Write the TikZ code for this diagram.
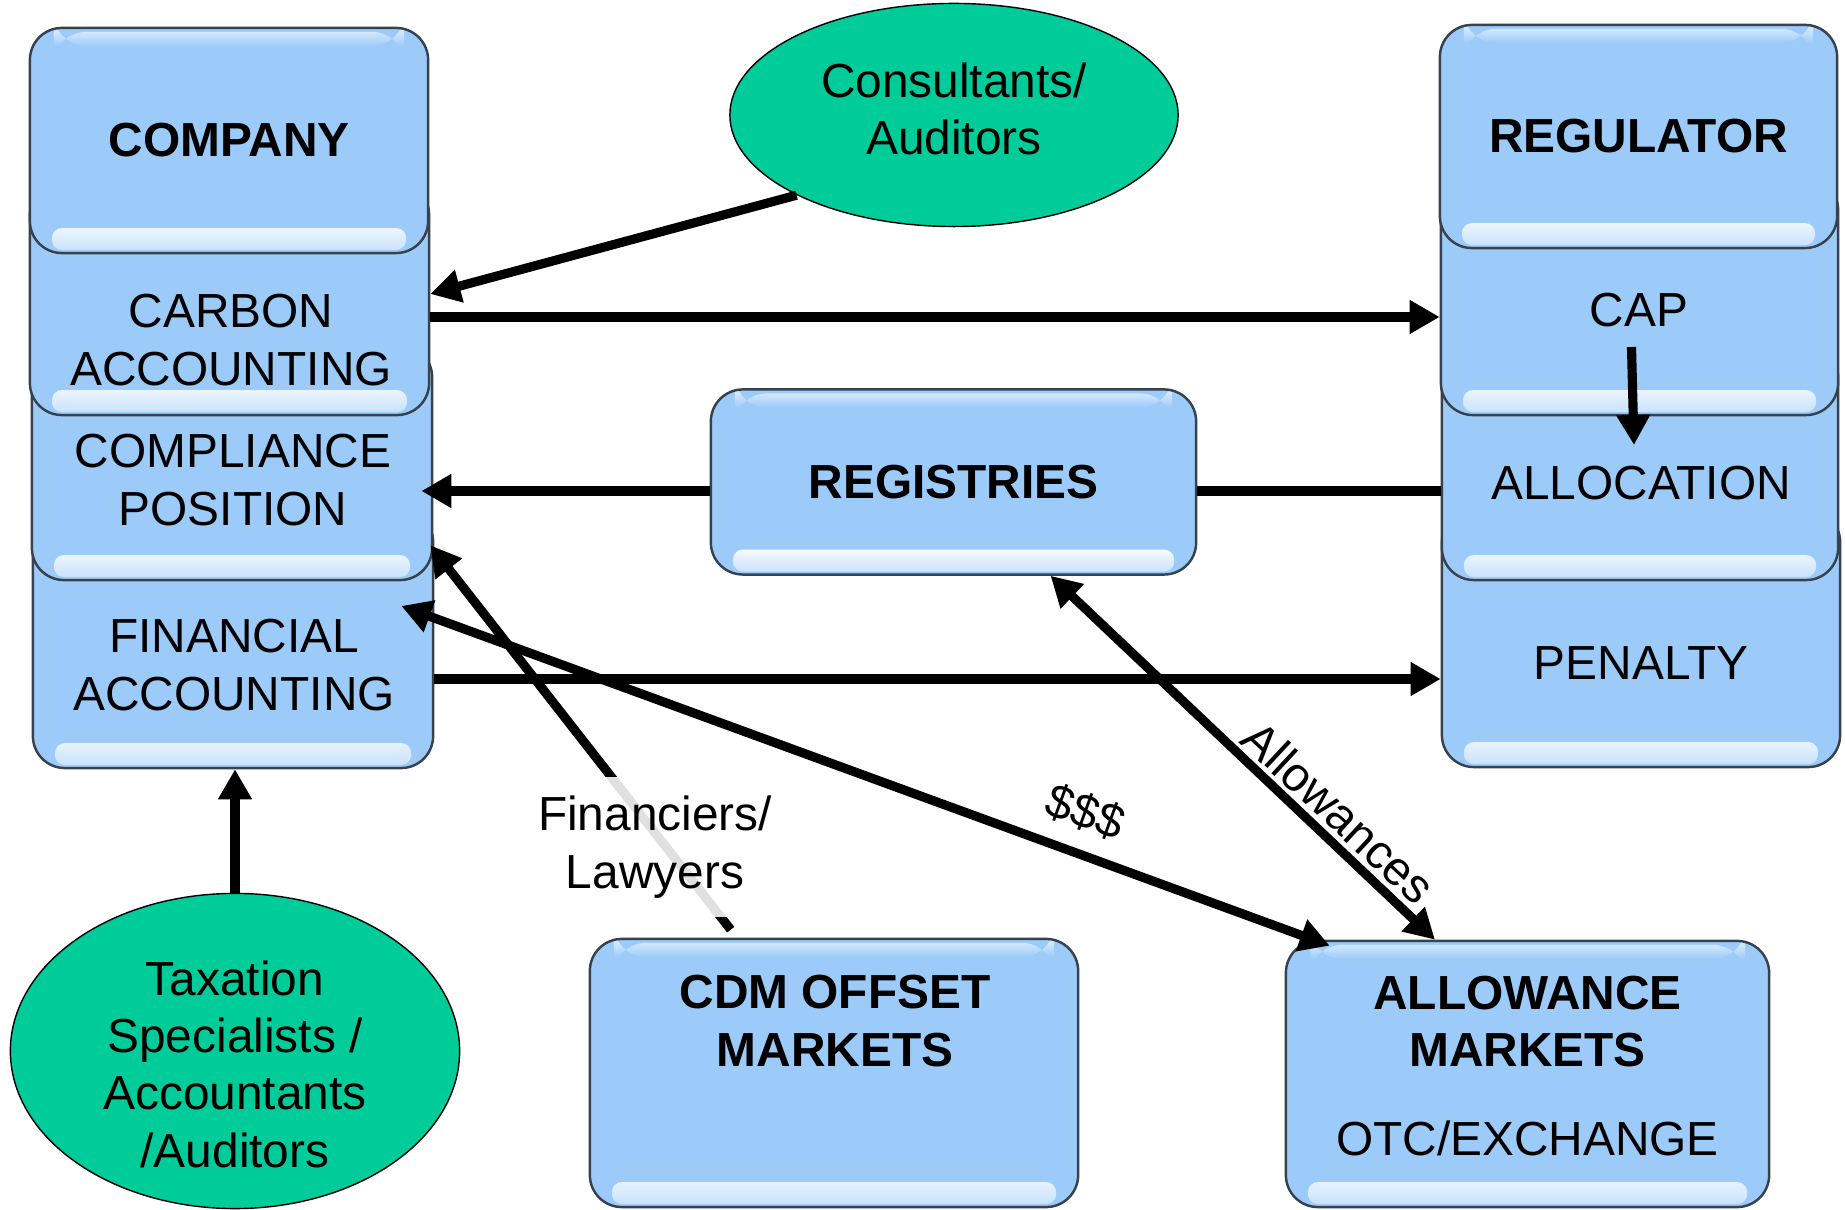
\documentclass[tikz,border=0pt]{standalone}
\usepackage{fontspec}
\setmainfont{Liberation Sans}
\usetikzlibrary{arrows.meta,shapes.geometric,calc}
\definecolor{regBlue}{HTML}{9CCBFA}
\definecolor{regEdge}{HTML}{37424D}
\definecolor{regGreen}{HTML}{00CC99}
\newcommand{\dgfont}{\fontsize{13.6}{16.3}\selectfont}
\pgfdeclareverticalshading{glossband}{100bp}{color(0bp)=(regBlue!60!white);
  color(25bp)=(regBlue!60!white); color(33bp)=(white); color(50bp)=(white);
  color(75bp)=(regBlue); color(100bp)=(regBlue)}
\tikzset{
  >={Triangle[length=3mm,width=3.2mm]},
  slab/.style={rectangle, rounded corners=3.2mm, draw=regEdge, line width=0.7pt,
              fill=regBlue, inner sep=0pt, align=center, font=\dgfont,
              path picture={
                \shade[shading=glossband, rounded corners=1mm]
                  ([xshift=2.2mm,yshift=0.3mm]path picture bounding box.south west) rectangle
                  ([xshift=-2.2mm,yshift=2.5mm]path picture bounding box.south east);
                \shade[top color=white!55!regBlue, bottom color=regBlue]
                  ([xshift=2.4mm,yshift=-0.4mm]path picture bounding box.north west) rectangle
                  ([xshift=-2.4mm,yshift=-1.8mm]path picture bounding box.north east);
              }},
  party/.style={ellipse, draw=black, line width=0.4pt, fill=regGreen, inner sep=0pt},
  txt/.style={align=center, font=\dgfont, inner sep=0pt},
  hd/.style={txt, font=\dgfont\bfseries},
  flow/.style={->, line width=2.6pt},
  dflow/.style={<->, line width=2.6pt},
  link/.style={line width=2.6pt},
}

\begin{document}
\begin{tikzpicture}[x=0.01cm,y=-0.01cm]
  \useasboundingbox (0,0) rectangle (1845,1210);
  % company stack, bottom layer first
  \node[slab, minimum width=4.00cm, minimum height=2.58cm] (financial) at (233,639) {};
  \node[txt] (financialtxt) at (234,665) {FINANCIAL\\ACCOUNTING};
  \node[slab, minimum width=4.00cm, minimum height=2.35cm] (compliance) at (232,462.5) {};
  \node[txt] (compliancetxt) at (233,480) {COMPLIANCE\\POSITION};
  \node[slab, minimum width=3.99cm, minimum height=2.32cm] (carbon) at (229.5,299) {};
  \node[txt] (carbontxt) at (231,340) {CARBON\\ACCOUNTING};
  \node[slab, font=\dgfont\bfseries, minimum width=3.98cm, minimum height=2.25cm]
        (company) at (229,140.5) {COMPANY};

  % regulator stack
  \node[slab, minimum width=3.98cm, minimum height=2.57cm] (penalty) at (1641,638.5) {};
  \node[txt] (penaltytxt) at (1641,663) {PENALTY};
  \node[slab, minimum width=3.96cm, minimum height=2.35cm] (allocation) at (1640,462.5) {};
  \node[txt] (allocationtxt) at (1641,483) {ALLOCATION};
  \node[slab, minimum width=3.97cm, minimum height=2.37cm] (cap) at (1639.5,296.5) {};
  \node[txt] (captxt) at (1639,310) {CAP};
  \node[slab, font=\dgfont\bfseries, minimum width=3.97cm, minimum height=2.23cm]
        (regulator) at (1638.5,136.5) {REGULATOR};

  % middle and markets
  \node[slab, font=\dgfont\bfseries, minimum width=4.85cm, minimum height=1.85cm]
        (registries) at (953.5,482) {REGISTRIES};
  \node[slab, minimum width=4.88cm, minimum height=2.68cm] (cdm) at (834,1073) {};
  \node[hd] (cdmtxt) at (835,1021) {CDM OFFSET\\MARKETS};
  \node[slab, minimum width=4.83cm, minimum height=2.66cm] (allow) at (1527.5,1074) {};
  \node[txt] (allowtxt) at (1527.5,1066)
        {\textbf{ALLOWANCE}\\\textbf{MARKETS}\\[3.1mm]OTC/EXCHANGE};

  % advisers
  \node[party, minimum width=4.48cm, minimum height=2.23cm] (consult) at (954,115) {};
  \node[txt] (consulttxt) at (954,109) {Consultants/\\Auditors};
  \node[party, minimum width=4.49cm, minimum height=3.15cm] (tax) at (235,1051) {};
  \node[txt] (taxtxt) at (235,1064) {Taxation\\Specialists /\\Accountants\\/Auditors};

  % connectors
  \draw[flow] (consult.207) -- ([yshift=0.5mm]carbon.east);
  \coordinate (cout) at ([yshift=-1.8mm]carbon.east);
  \draw[flow] (cout) -- (cout -| cap.west);
  \coordinate (rin) at ([yshift=-0.9mm]registries.west);
  \coordinate (rout) at ([yshift=-0.9mm]registries.east);
  \draw[flow, shorten >=-1.2mm] (rin) -- (rin -| compliance.east);
  \draw[link] (rout) -- (rout -| allocation.west);
  \draw[flow] ([xshift=-0.8mm,yshift=-5.05mm]cap.center)
        -- ([xshift=-0.6mm,yshift=1.75mm]allocation.center);
  \coordinate (fout) at ([yshift=-4mm]financial.east);
  \draw[flow] (fout) -- (fout -| penalty.west);
  \draw[flow] (tax.north) -- (tax.north |- financial.south);
  \draw[flow] ([xshift=1.42cm,yshift=0.8mm]cdm.north west)
        -- ([xshift=-0.3mm,yshift=3.6mm]compliance.south east);
  \draw[dflow] ([xshift=-3.3mm,yshift=3.3mm]financial.east)
        -- ([xshift=4.5mm,yshift=-0.6mm]allow.north west);
  \draw[dflow] ([xshift=9.7mm]registries.south) -- ([xshift=-9.25mm]allow.north);

  % connector labels
  \node[txt, fill=white, fill opacity=.88, text opacity=1, inner xsep=1mm,
        minimum height=1.4cm] (finlbl) at (655,847) {Financiers/\\Lawyers};
  \node[txt, rotate=-20] (cashlbl) at (1085,812) {\$\$\$};
  \node[txt, rotate=-43] (allowlbl) at (1339,812) {Allowances};
\end{tikzpicture}
\end{document}
